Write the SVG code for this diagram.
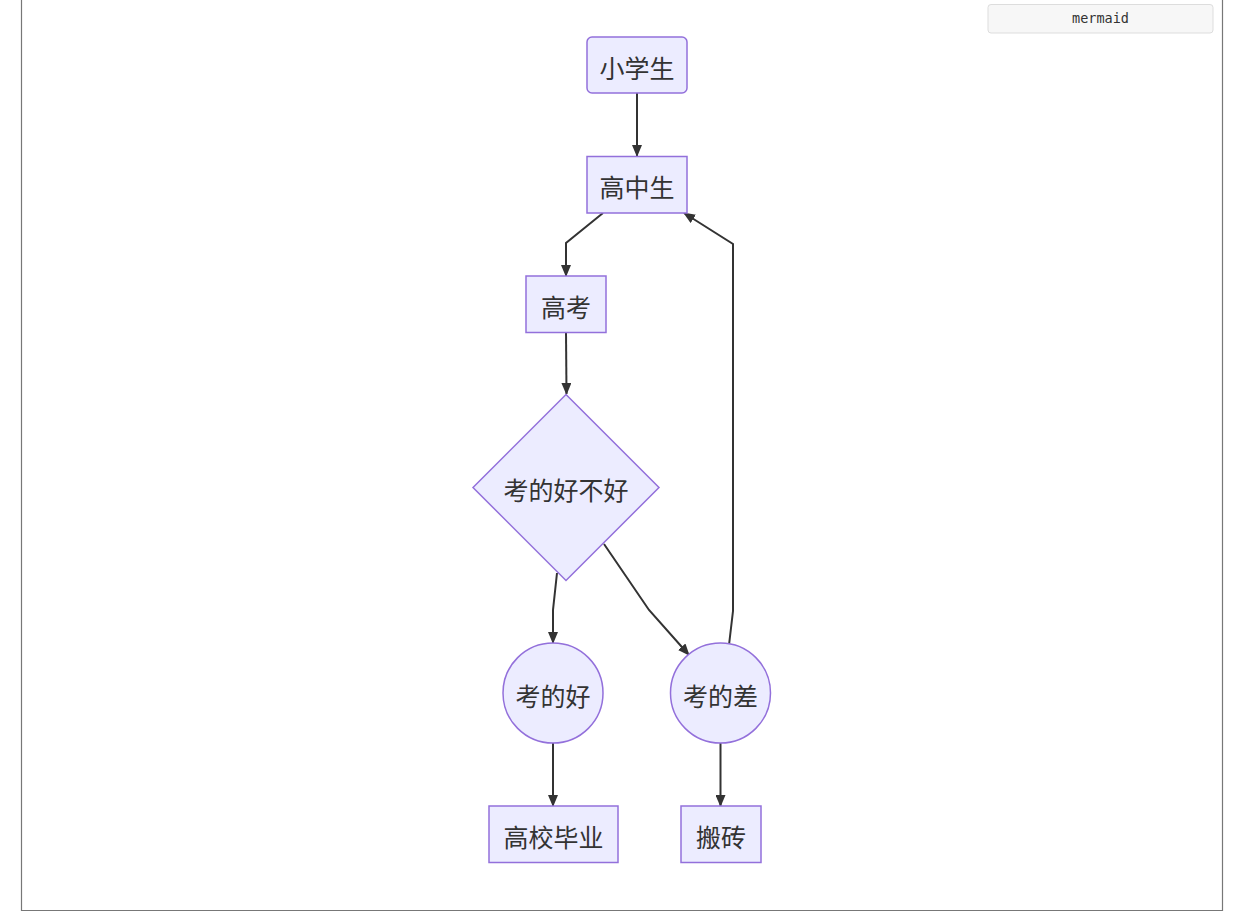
<svg xmlns="http://www.w3.org/2000/svg" width="1246" height="920" viewBox="0 0 1246 920">
<defs>
<style>
.node rect,.node polygon,.node circle{fill:#ECECFF;stroke:#9370DB;stroke-width:1.5}
.node text{font-family:"Noto Sans CJK SC","Liberation Sans",sans-serif;font-size:25px;fill:#333;text-anchor:middle;dominant-baseline:central}
.edge{fill:none;stroke:#333;stroke-width:2;marker-end:url(#arr)}
</style>
<marker id="arr" viewBox="0 0 12 10" refX="11" refY="5" markerWidth="12" markerHeight="10" markerUnits="userSpaceOnUse" orient="auto">
<path d="M0,0 L12,5 L0,10 Z" fill="#333"/>
</marker>
</defs>
<rect width="1246" height="920" fill="#fff"/>
<path d="M21.5,0 V910.5 H1222.5 V0" fill="none" stroke="#777" stroke-width="1.2"/>
<g id="btn">
<rect x="988" y="4.5" width="225" height="28.5" rx="3" fill="#f7f7f7" stroke="#ddd"/>
<text x="1100.5" y="18" font-family="'DejaVu Sans Mono','Liberation Mono',monospace" font-size="13.5" fill="#333" text-anchor="middle" dominant-baseline="central">mermaid</text>
</g>
<g id="edges">
<path class="edge" d="M637,93 V156"/>
<path class="edge" d="M603,213 L566,243 V276"/>
<path class="edge" d="M566,332 L566.5,394"/>
<path class="edge" d="M557,573 L553,610 V643"/>
<path class="edge" d="M604,544 L649,610 L689,655"/>
<path class="edge" d="M729,645 L733,611 V244 L684,213"/>
<path class="edge" d="M553,743 V806"/>
<path class="edge" d="M720.5,743 L720.5,806"/>
</g>
<g id="n1" class="node"><rect x="587" y="37" width="100" height="56" rx="5"/><text x="637" y="67">小学生</text></g>
<g id="n2" class="node"><rect x="587" y="156.5" width="100" height="56.5"/><text x="637" y="186">高中生</text></g>
<g id="n3" class="node"><rect x="526" y="276" width="80" height="56.5"/><text x="566" y="306">高考</text></g>
<g id="n4" class="node"><polygon points="566,394.5 659,487.5 566,580.5 473,487.5"/><text x="566" y="489">考的好不好</text></g>
<g id="n5" class="node"><circle cx="553" cy="693" r="50"/><text x="553" y="695">考的好</text></g>
<g id="n6" class="node"><circle cx="720.5" cy="693" r="50"/><text x="720.5" y="695">考的差</text></g>
<g id="n7" class="node"><rect x="489" y="806" width="129" height="56.5"/><text x="553.5" y="836">高校毕业</text></g>
<g id="n8" class="node"><rect x="681" y="806" width="80" height="56.5"/><text x="721" y="836">搬砖</text></g>
</svg>
